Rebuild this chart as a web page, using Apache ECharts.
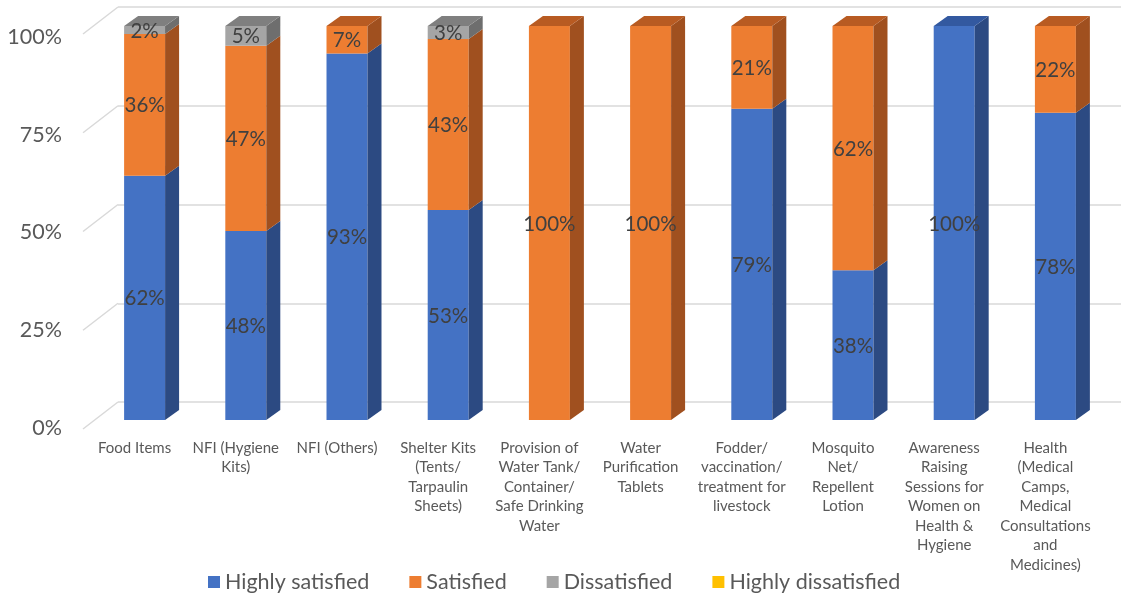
<!DOCTYPE html>
<html>
<head>
<meta charset="utf-8">
<script src="https://cdn.jsdelivr.net/npm/echarts@6/dist/echarts.min.js"></script>
<style>
  html, body { margin: 0; padding: 0; background: #fff; }
  #main { width: 1121px; height: 595px; }
</style>
</head>
<body>
<div id="main"></div>
<script>
// data
var categories = ['Food Items', 'NFI (Hygiene\nKits)', 'NFI (Others)', 'Shelter Kits\n(Tents/\nTarpaulin\nSheets)',
  'Provision of\nWater Tank/\nContainer/\nSafe Drinking\nWater', 'Water\nPurification\nTablets',
  'Fodder/\nvaccination/\ntreatment for\nlivestock', 'Mosquito\nNet/\nRepellent\nLotion',
  'Awareness\nRaising\nSessions for\nWomen on\nHealth &\nHygiene', 'Health\n(Medical\nCamps,\nMedical\nConsultations\nand\nMedicines)'];
var seriesNames = ['Highly satisfied', 'Satisfied', 'Dissatisfied', 'Highly dissatisfied'];
var highlySatisfied = [62, 48, 93, 53.3, 0, 0, 79, 38, 100, 78];
var satisfied = [36, 47, 7, 43.4, 100, 100, 21, 62, 0, 22];
var dissatisfied = [2, 5, 0, 3.3, 0, 0, 0, 0, 0, 0];
var highlyDissatisfied = [0, 0, 0, 0, 0, 0, 0, 0, 0, 0];
var yTicks = [0, 25, 50, 75, 100];

var values = [highlySatisfied, satisfied, dissatisfied, highlyDissatisfied];
var frontColors = ['#4472C4', '#ED7D31', '#A5A5A5', '#FFC000'];
var sideColors = ['#2C4A82', '#A0501F', '#6E6E6E', '#A67D00'];
var topColors = ['#3359A0', '#B85B22', '#7F7F7F', '#BF9000'];
var DX = 14, DY = -10;
var FONT = 'Lato, sans-serif';

// stack bases for each segment, and which segment is the top one
function buildData(si) {
  var rows = [];
  for (var c = 0; c < categories.length; c++) {
    var base = 0;
    for (var k = 0; k < si; k++) base += values[k][c];
    var v = values[si][c];
    var isTop = 1;
    for (var k2 = si + 1; k2 < values.length; k2++) if (values[k2][c] > 0) isTop = 0;
    rows.push([c, base, base + v, v, isTop]);
  }
  return rows;
}

function makeRender(si) {
  return function (params, api) {
    var val = api.value(3);
    if (!val) return;
    var p0 = api.coord([api.value(0), api.value(1)]);
    var p1 = api.coord([api.value(0), api.value(2)]);
    var w = api.size([1, 0])[0] * 0.405;
    var x0 = p0[0] - w / 2, x1 = p0[0] + w / 2;
    var yb = p0[1], yt = p1[1];
    var kids = [
      { type: 'rect', shape: { x: x0, y: yt, width: w, height: yb - yt }, style: { fill: frontColors[si] } },
      { type: 'polygon', shape: { points: [[x1, yb], [x1 + DX, yb + DY], [x1 + DX, yt + DY], [x1, yt]] }, style: { fill: sideColors[si] } }
    ];
    if (api.value(4)) {
      kids.push({ type: 'polygon', shape: { points: [[x0, yt], [x1, yt], [x1 + DX, yt + DY], [x0 + DX, yt + DY]] }, style: { fill: topColors[si] } });
    }
    kids.push({ type: 'text', style: { text: Math.round(val) + '%', x: p0[0], y: (yb + yt) / 2 + 1, align: 'center', verticalAlign: 'middle', fill: '#404040', fontSize: 20.5, fontFamily: FONT } });
    return { type: 'group', children: kids };
  };
}

var chart = echarts.init(document.getElementById('main'));
var series = seriesNames.map(function (n, i) {
  return {
    name: n, type: 'custom', xAxisIndex: 0, yAxisIndex: 0,
    itemStyle: { color: frontColors[i] },
    renderItem: makeRender(i),
    encode: { x: 0, y: [1, 2] },
    data: buildData(i)
  };
});

var hidden = { show: false };
chart.setOption({
  animation: false,
  color: frontColors,
  grid: [
    { left: 94, right: 15, top: 26, bottom: 175 },   // bars (front plane)
    { left: 118, right: 0, top: 7, bottom: 193 },    // back wall
    { left: 70, width: 1, top: 37, bottom: 167 },    // tick labels
    { left: 84, right: 25, top: 400, height: 30 }    // category labels
  ],
  xAxis: [
    { gridIndex: 0, type: 'category', data: categories, show: false },
    { gridIndex: 1, type: 'value', show: false },
    { gridIndex: 2, type: 'value', show: false },
    { gridIndex: 3, type: 'category', data: categories, axisLine: hidden, axisTick: hidden,
      axisLabel: { interval: 0, margin: 8, color: '#595959', fontSize: 15, lineHeight: 19.5, fontFamily: FONT } }
  ],
  yAxis: [
    { gridIndex: 0, type: 'value', min: 0, max: 100, show: false },
    { gridIndex: 1, type: 'value', min: 0, max: 100, interval: 25, axisLabel: hidden, axisLine: hidden, axisTick: hidden,
      splitLine: { lineStyle: { color: '#D9D9D9', width: 1.5 } } },
    { gridIndex: 2, type: 'value', min: 0, max: 100, interval: 25, axisLine: hidden, axisTick: hidden, splitLine: hidden,
      axisLabel: { formatter: '{value}%', color: '#595959', fontSize: 21.5, fontFamily: FONT } },
    { gridIndex: 3, type: 'value', show: false }
  ],
  legend: {
    data: seriesNames, left: 203, top: 566, icon: 'rect', itemWidth: 12, itemHeight: 12, itemGap: 40, itemStyle: { borderWidth: 0 },
    textStyle: { color: '#595959', fontSize: 21.5, fontFamily: FONT }
  },
  series: series
});

// side-wall diagonals for each gridline
var backLeft = 118;
var diag = yTicks.map(function (t) {
  var y = chart.convertToPixel({ yAxisIndex: 1 }, t);
  return { type: 'line', silent: true, z: 0, shape: { x1: backLeft - 35, y1: y + 27, x2: backLeft, y2: y },
    style: { stroke: '#D9D9D9', lineWidth: 1.5 } };
});
chart.setOption({ graphic: diag });
</script>
</body>
</html>
